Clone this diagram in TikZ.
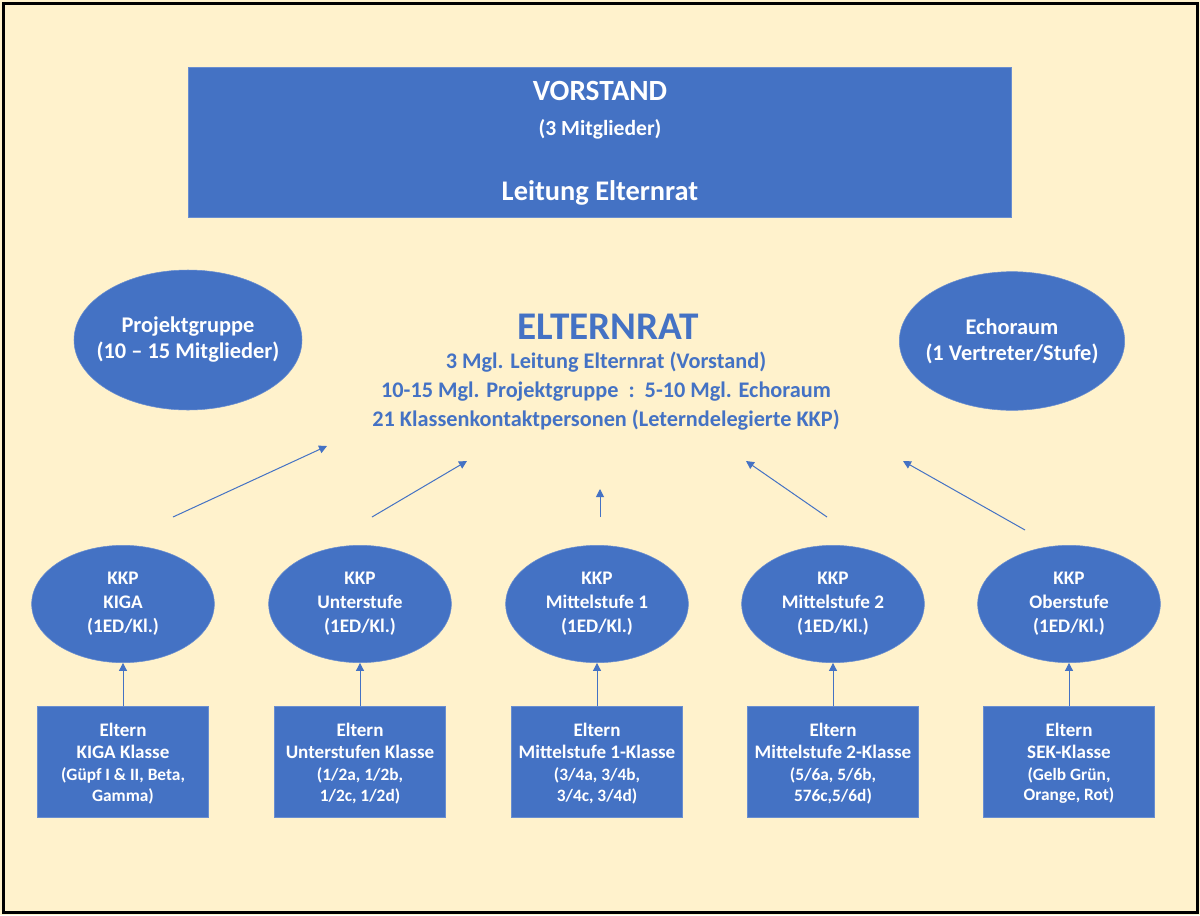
\documentclass[tikz,border=0pt]{standalone}
\usepackage{fontspec}
\setmainfont{Carlito}
\usetikzlibrary{arrows.meta,shapes.geometric}
\definecolor{offblue}{HTML}{4472C4}
\definecolor{cream}{HTML}{FFF2CC}
\tikzset{
    blue-box/.style = {fill=offblue, draw=offblue!80!white, thin, rectangle, text=white, font=\bfseries, align=center, inner sep=0pt},
    blue-oval/.style = {fill=offblue, draw=offblue!80!white, thin, ellipse, text=white, font=\bfseries, align=center, inner sep=0pt},
    white-text/.style = {text=white, font=\bfseries, inner sep=0pt},
    blue-text/.style = {text=offblue, font=\bfseries, align=center, inner sep=0pt},
    up-arrow/.style = {draw=offblue, line width=0.75pt, -{Triangle[width=6pt,length=6pt]}},
}

\begin{document}
\begin{tikzpicture}[x=0.75pt,y=-0.75pt]
% background and frame
\fill[cream] (0,0) rectangle (1200,915);
\draw[black, line width=2.25pt] (3,3) rectangle (1197,912);

% top box
\node[blue-box, minimum width=617pt, minimum height=112.5pt] (vorstand) at (599.5,142) {};
\node[white-text, font=\bfseries\fontsize{22}{26}\selectfont] (vorstand-title) at (600,91) {VORSTAND};
\node[white-text, font=\bfseries\fontsize{16.2}{19}\selectfont] (vorstand-count) at (600,129) {(3 Mitglieder)};
\node[white-text, font=\bfseries\fontsize{21.3}{25}\selectfont] (vorstand-lead) at (600,193) {Leitung Elternrat};

% side groups
\node[blue-oval, inner xsep=-14pt, minimum width=171pt, minimum height=105pt, font=\bfseries\fontsize{16.8}{19.5}\selectfont] (projekt) at (188,340) {Projektgruppe\\(10 -- 15 Mitglieder)};
\node[blue-oval, inner xsep=-14pt, minimum width=169pt, minimum height=104pt, font=\bfseries\fontsize{16.8}{19.5}\selectfont] (echo) at (1012,341) {Echoraum\\(1 Vertreter/Stufe)};

% Elternrat
\node[blue-text, font=\bfseries\fontsize{29.4}{34}\selectfont] (elternrat) at (608,327) {ELTERNRAT};
\node[blue-text, font=\bfseries\fontsize{16.7}{22}\selectfont] (elternrat-info) at (606,391) {3 Mgl. Leitung Elternrat (Vorstand)\\10-15 Mgl. Projektgruppe\ \ :\ \ 5-10 Mgl. Echoraum\\21 Klassenkontaktpersonen (Leterndelegierte KKP)};

% KKP ovals
\foreach \name/\x/\stufe in {kiga/123/KIGA, unter/360/Unterstufe, mittel1/597/Mittelstufe 1, mittel2/833/Mittelstufe 2, ober/1069/Oberstufe}
    \node[blue-oval, minimum width=137pt, minimum height=88pt, font=\bfseries\fontsize{14.4}{18}\selectfont] (kkp-\name) at (\x,604) {KKP\\\stufe\\(1ED/Kl.)};

% parent boxes
\tikzset{eltern/.style = {blue-box, minimum width=128pt, minimum height=83pt, font=\bfseries\fontsize{14.3}{16.5}\selectfont}}
\node[eltern] (eltern-kiga) at (123,762) {\\[-4.5pt]Eltern\\KIGA Klasse\\{\fontsize{13}{15}\selectfont(Güpf I \& II, Beta,}\\[-1pt]{\fontsize{13}{15}\selectfont Gamma)}};
\node[eltern] (eltern-unter) at (360,762) {\\[-4.5pt]Eltern\\Unterstufen Klasse\\{\fontsize{13}{15}\selectfont(1/2a, 1/2b,}\\[-1pt]{\fontsize{13}{15}\selectfont 1/2c, 1/2d)}};
\node[eltern] (eltern-mittel1) at (597,762) {\\[-4.5pt]Eltern\\Mittelstufe 1-Klasse\\{\fontsize{13}{15}\selectfont(3/4a, 3/4b,}\\[-1pt]{\fontsize{13}{15}\selectfont 3/4c, 3/4d)}};
\node[eltern] (eltern-mittel2) at (833,762) {\\[-4.5pt]Eltern\\Mittelstufe 2-Klasse\\{\fontsize{13}{15}\selectfont(5/6a, 5/6b,}\\[-1pt]{\fontsize{13}{15}\selectfont 576c,5/6d)}};
\node[eltern] (eltern-ober) at (1069,762) {\\[-4.5pt]Eltern\\SEK-Klasse\\{\fontsize{13}{15}\selectfont(Gelb Grün,}\\[-1pt]{\fontsize{13}{15}\selectfont Orange, Rot)}};

% arrows up to the KKP
\foreach \name in {kiga, unter, mittel1, mittel2, ober}
    \draw[up-arrow] (eltern-\name.north) -- (kkp-\name.south);

% arrows up to the Elternrat
\coordinate (from-kiga) at (173,517);
\coordinate (to-kiga) at (327,446);
\coordinate (from-unter) at (372,517);
\coordinate (to-unter) at (467,461);
\coordinate (from-mittel1) at (600,517);
\coordinate (to-mittel1) at (600,489);
\coordinate (from-mittel2) at (827,517);
\coordinate (to-mittel2) at (746,461);
\coordinate (from-ober) at (1025,530);
\coordinate (to-ober) at (903,461);
\foreach \name in {kiga, unter, mittel1, mittel2, ober}
    \draw[up-arrow] (from-\name) -- (to-\name);
\end{tikzpicture}
\end{document}
